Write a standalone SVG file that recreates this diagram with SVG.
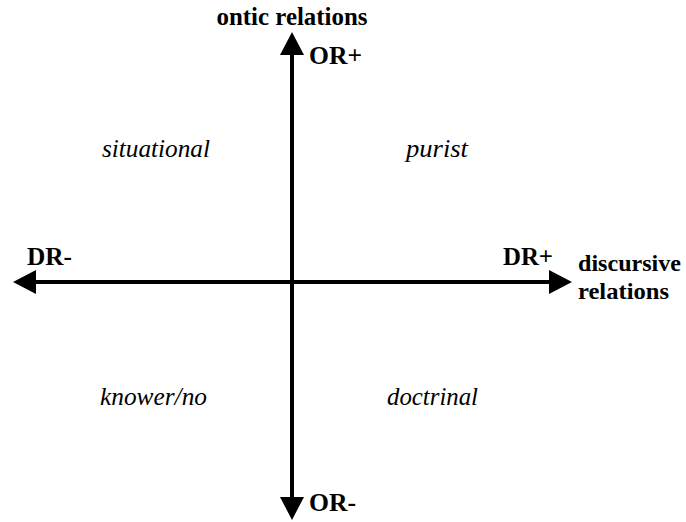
<svg xmlns="http://www.w3.org/2000/svg" width="686" height="522" viewBox="0 0 686 522">
<style>
text{font-family:'Liberation Serif','Times New Roman',serif;fill:#000}
.b{font-weight:bold;font-size:26px}
.s{font-size:24px}
.i{font-style:italic;font-size:25px}
.ax{stroke:#000;stroke-width:4;fill:none}
</style>
<defs>
<marker id="ah" markerUnits="userSpaceOnUse" markerWidth="24" markerHeight="24" refX="1" refY="12" orient="auto-start-reverse">
<path d="M0,0 L23,12 L0,24 z" fill="#000"/>
</marker>
</defs>
<rect width="686" height="522" fill="#fff"/>
<g id="connectors">
<path class="ax" d="M35,282 L550,282" marker-start="url(#ah)" marker-end="url(#ah)"/>
<path class="ax" d="M292,54 L292,498" marker-start="url(#ah)" marker-end="url(#ah)"/>
</g>
<g id="axis-labels">
<text class="b" x="292" y="25" text-anchor="middle" textLength="151" lengthAdjust="spacingAndGlyphs">ontic relations</text>
<text class="b" x="309" y="64" textLength="53" lengthAdjust="spacingAndGlyphs">OR+</text>
<text class="b" x="309" y="511" textLength="47" lengthAdjust="spacingAndGlyphs">OR-</text>
<text class="b" x="27" y="265" textLength="45" lengthAdjust="spacingAndGlyphs">DR-</text>
<text class="b" x="503" y="265" textLength="50" lengthAdjust="spacingAndGlyphs">DR+</text>
<text class="b s" x="578" y="271" textLength="103" lengthAdjust="spacingAndGlyphs">discursive</text>
<text class="b s" x="578" y="299" textLength="91" lengthAdjust="spacingAndGlyphs">relations</text>
</g>
<g id="quadrant-situational"><text class="i" x="102" y="157" textLength="108" lengthAdjust="spacingAndGlyphs">situational</text></g>
<g id="quadrant-purist"><text class="i" x="406" y="157" textLength="62" lengthAdjust="spacingAndGlyphs">purist</text></g>
<g id="quadrant-knower"><text class="i" x="100" y="405" textLength="107" lengthAdjust="spacingAndGlyphs">knower/no</text></g>
<g id="quadrant-doctrinal"><text class="i" x="387" y="405" textLength="91" lengthAdjust="spacingAndGlyphs">doctrinal</text></g>
</svg>
